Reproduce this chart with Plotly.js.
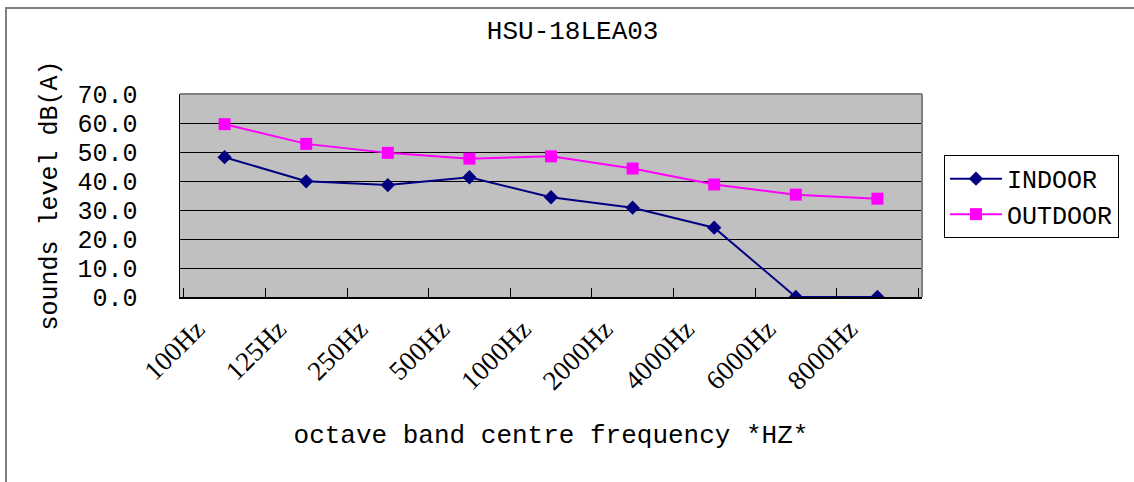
<!DOCTYPE html>
<html>
<head>
<meta charset="utf-8">
<script src="https://cdn.plot.ly/plotly-3.0.1.min.js"></script>
<style>html,body{margin:0;padding:0;background:#fff;}#chart{width:1134px;height:482px;}</style>
</head>
<body>
<div id="chart"></div>
<script>
const categories = ["100Hz","125Hz","250Hz","500Hz","1000Hz","2000Hz","4000Hz","6000Hz","8000Hz"];
const indoor = [48.2, 39.9, 38.6, 41.3, 34.4, 30.8, 23.9, 0, 0];
const outdoor = [59.6, 52.8, 49.7, 47.7, 48.5, 44.3, 38.8, 35.3, 33.9];
const yTicks = [0, 10, 20, 30, 40, 50, 60, 70];

const mono = "Liberation Mono, DejaVu Sans Mono, monospace";
const serif = "Liberation Serif, DejaVu Serif, serif";

const traces = [
  {x: categories, y: indoor, name: "INDOOR", type: "scatter", mode: "lines+markers",
   line: {color: "#000080", width: 2}, marker: {symbol: "diamond", size: 11, color: "#000080"}},
  {x: categories, y: outdoor, name: "OUTDOOR", type: "scatter", mode: "lines+markers",
   line: {color: "#FF00FF", width: 2}, marker: {symbol: "square", size: 12, color: "#FF00FF"}}
];

const layout = {
  width: 1134, height: 482,
  margin: {l: 180, r: 212, t: 94, b: 185},
  paper_bgcolor: "#ffffff",
  plot_bgcolor: "#C0C0C0",
  showlegend: true,
  title: {text: "HSU-18LEA03", font: {family: mono, size: 26, color: "#000"},
          x: 0.505, xref: "container", xanchor: "center", y: 0.938, yref: "container", yanchor: "middle"},
  xaxis: {
    type: "category", tickson: "boundaries", ticks: "inside", ticklen: 9, tickcolor: "#000", tickwidth: 1,
    showline: true, linecolor: "#000", linewidth: 1.5, showgrid: false, tickangle: -45,
    ticklabelshift: -28, ticklabelstandoff: 4,
    tickfont: {family: serif, size: 27, color: "#000"},
    title: {text: "octave band centre frequency *HZ*", font: {family: mono, size: 26, color: "#000"}, standoff: 30},
    automargin: false, fixedrange: true
  },
  yaxis: {
    range: [0, 70], tickvals: yTicks, tickformat: ".1f", ticks: "", showline: true, linecolor: "#000", linewidth: 1.5,
    showgrid: true, gridcolor: "#000", gridwidth: 1, zeroline: false, ticklabelstandoff: 36,
    tickfont: {family: mono, size: 25, color: "#000"},
    title: {text: "sounds level dB(A)", font: {family: mono, size: 25, color: "#000"}, standoff: 12},
    automargin: false, fixedrange: true
  },
  legend: {x: 1.0296, y: 0.70, xanchor: "left", yanchor: "top", bgcolor: "#fff", bordercolor: "#000", borderwidth: 1,
           font: {family: mono, size: 25, color: "#000"}, tracegroupgap: 0, itemwidth: 52},
  shapes: [
    {type: "line", xref: "paper", yref: "paper", x0: 0, x1: 1, y0: 1, y1: 1, line: {color: "#808080", width: 2}},
    {type: "line", xref: "paper", yref: "paper", x0: 1, x1: 1, y0: 0, y1: 1, line: {color: "#808080", width: 2}},
    {type: "rect", xref: "paper", yref: "paper", x0: -0.2345, x1: 1.8, y0: -1.2, y1: 1.4236, line: {color: "#808080", width: 2}}
  ]
};

Plotly.newPlot("chart", traces, layout, {displayModeBar: false, staticPlot: true});
</script>
</body>
</html>
